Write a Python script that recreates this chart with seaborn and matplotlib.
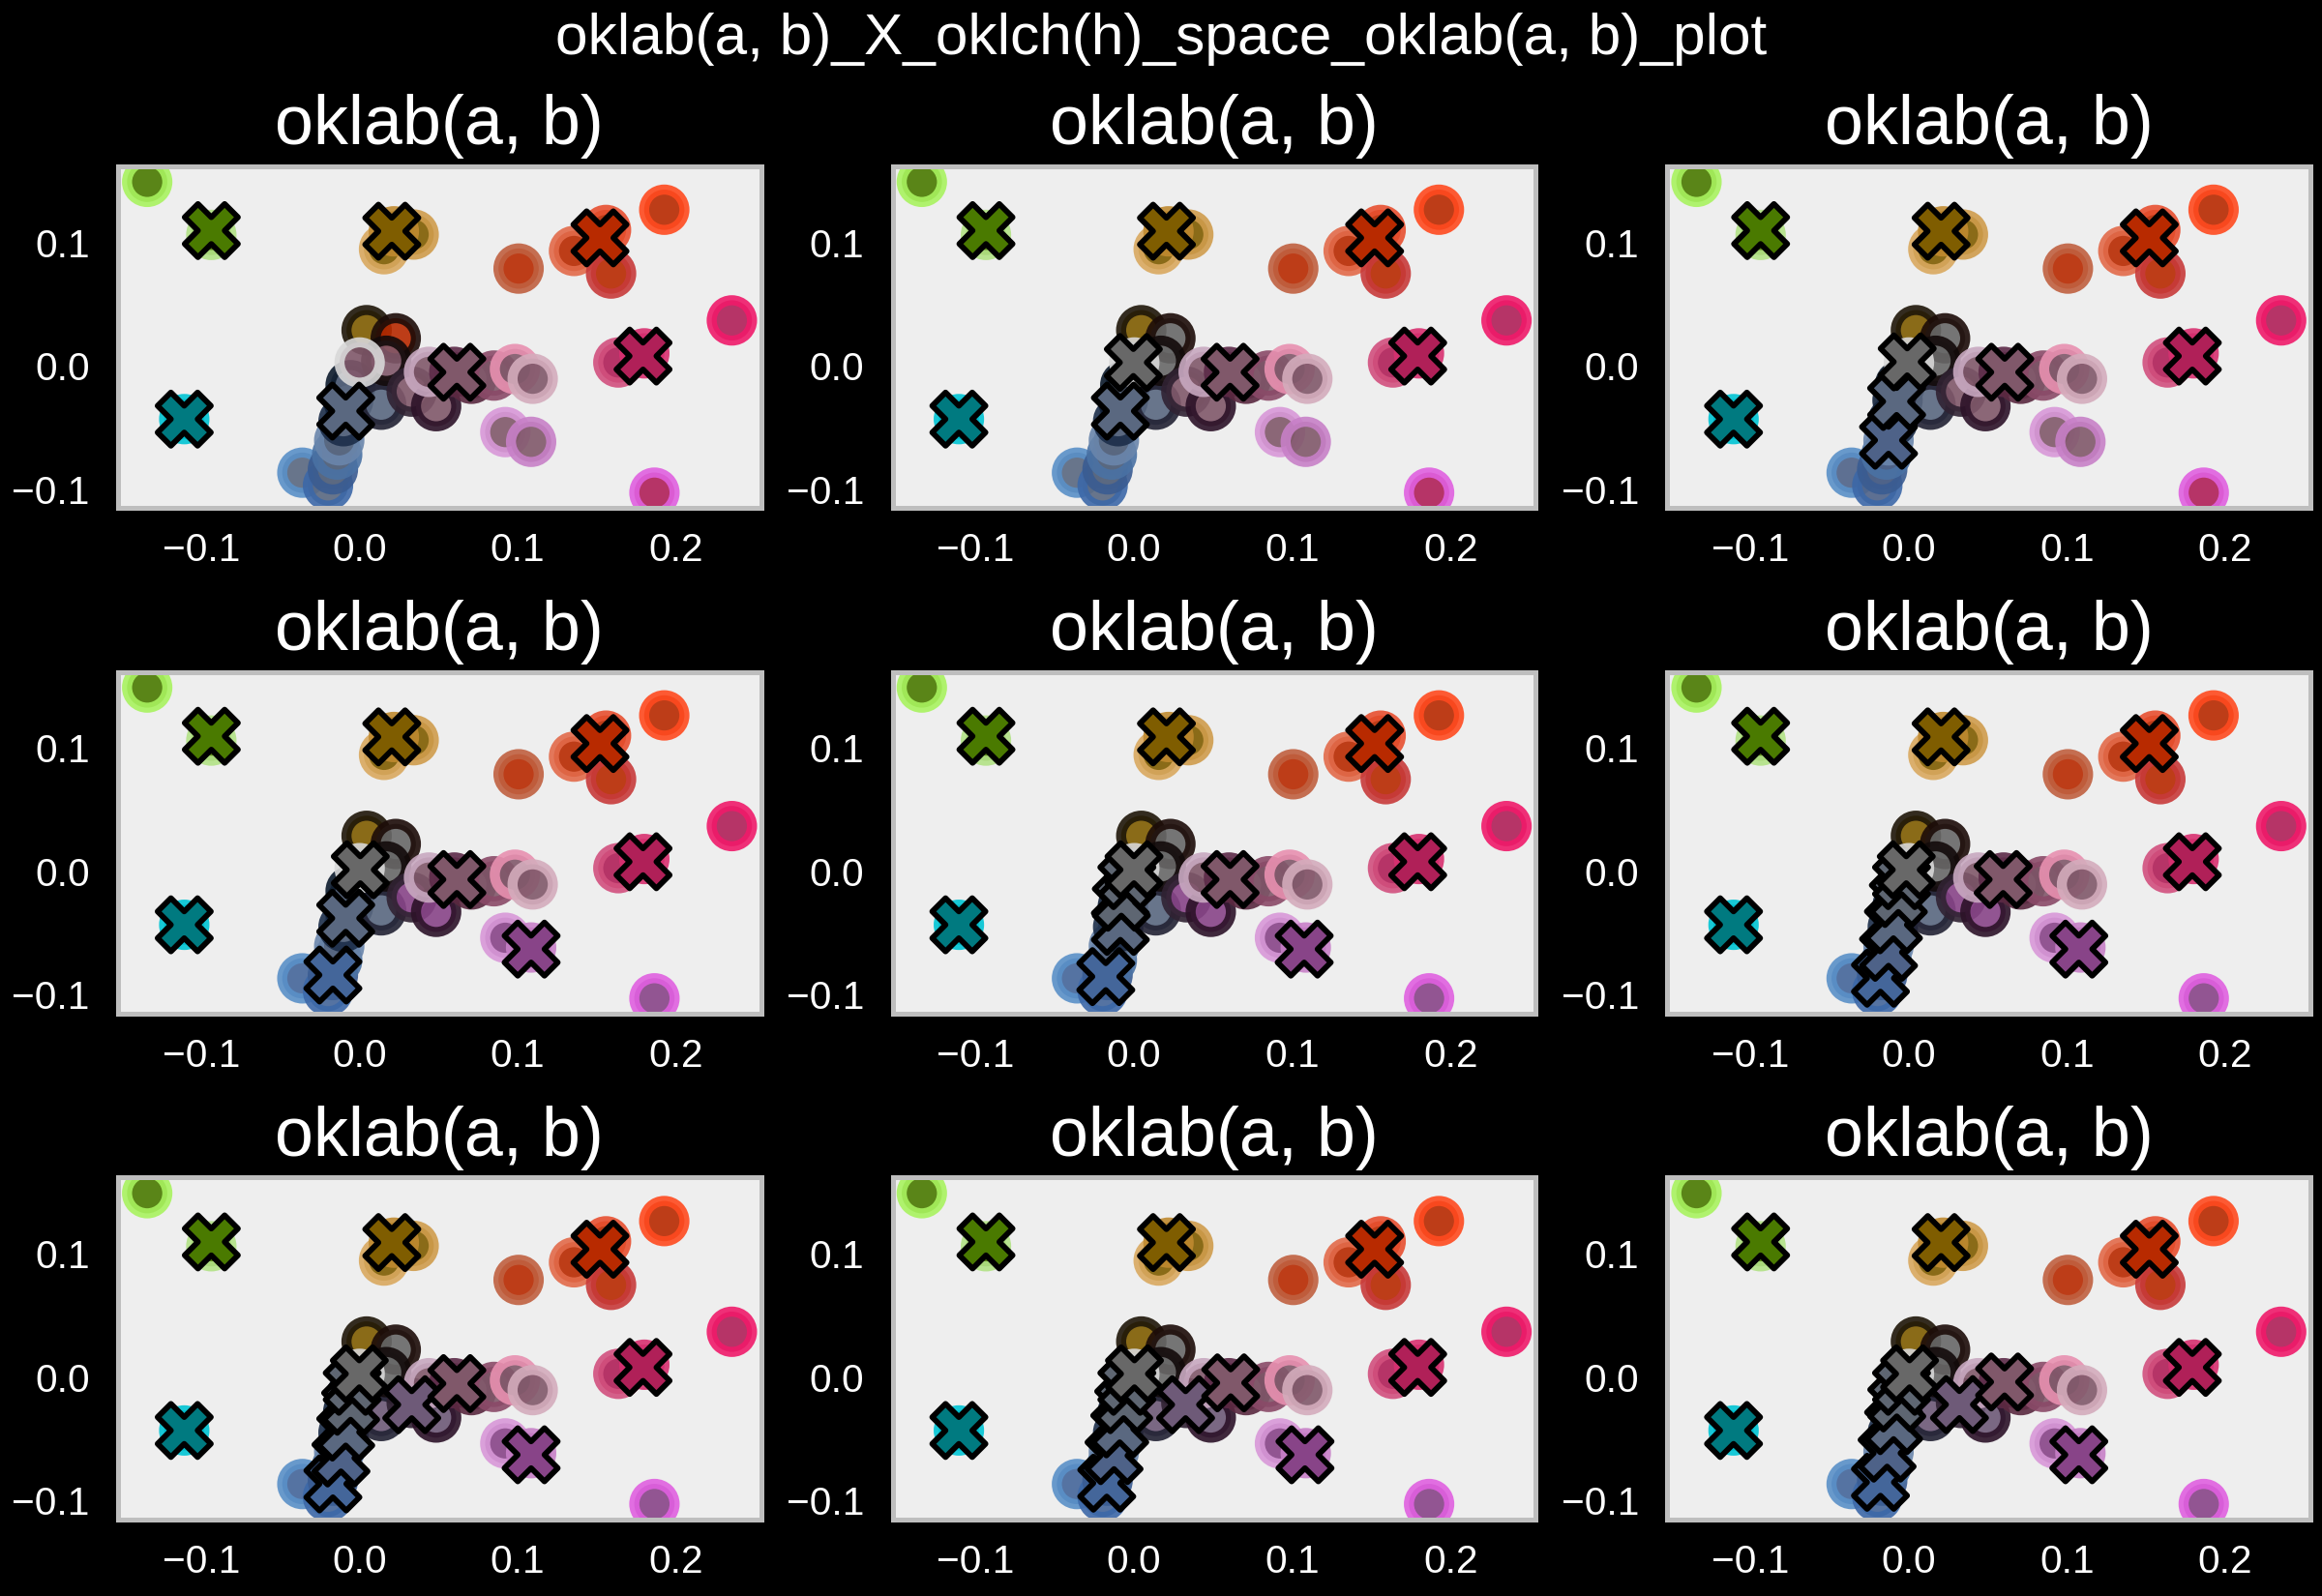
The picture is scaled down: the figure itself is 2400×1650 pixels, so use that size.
import matplotlib
matplotlib.use("Agg")
import matplotlib.pyplot as plt
from matplotlib.ticker import MultipleLocator
import pandas as pd
import seaborn as sns

# palette colours placed at their oklab (a, b); ring = the colour itself
point_a = [-0.1340, -0.0935, 0.0156, 0.0343, 0.0218, 0.1006, 0.1356, 0.1590, 0.1558, 0.1926,
           0.2353, 0.1636, 0.1800, 0.1864, -0.1106,
           -0.0360, -0.0198, -0.0167, -0.0140, -0.0127, -0.0100, -0.0070, -0.0055, 0.0138,
           0.0046, 0.0230, 0.0170, 0.0002,
           0.0331, 0.0485, 0.0440, 0.0600, 0.0708, 0.0850, 0.0983, 0.1095, 0.0922, 0.1085]
point_b = [0.1490, 0.1060, 0.0944, 0.1063, 0.1089, 0.0787, 0.0930, 0.0747, 0.1100, 0.1264,
           0.0367, 0.0026, 0.0100, -0.1029, -0.0433,
           -0.0867, -0.0970, -0.0840, -0.0720, -0.0605, -0.0450, -0.0280, -0.0158, -0.0316,
           0.0288, 0.0222, 0.0040, 0.0026,
           -0.0210, -0.0328, -0.0050, -0.0050, -0.0106, -0.0080, -0.0027, -0.0106, -0.0538, -0.0617]
point_edge = ["#a8f35f", "#b2e286", "#d9a95f", "#cf9c4c", "#c08a30", "#c06040", "#e26a4a",
              "#c83a3a", "#e85030", "#ff4a1f", "#f01a6a", "#d2507e", "#d83070", "#e060e0",
              "#00c4d4",
              "#5a90c8", "#3c68a8", "#3a5c92", "#4a72a4", "#6a86ac", "#1c2e4a", "#12223a",
              "#0c1a2c", "#222234",
              "#1e1608", "#1c0c08", "#120a0a", "#d8d8d8",
              "#302232", "#2c1228", "#c8a8c0", "#5c2a48", "#5a2840", "#8a4a68", "#e890b0",
              "#d4acbc", "#d898d8", "#c880c8"]

# cluster of every point in the first panel, then changes panel by panel
base_group = ["green", "green", "gold", "gold", "gold", "red", "red", "red", "red", "red",
              "magenta", "magenta", "magenta", "magenta", "teal",
              "slate", "slate", "slate", "slate", "slate", "slate", "slate", "slate", "slate",
              "gold", "red", "mauve", "mauve",
              "mauve", "mauve", "mauve", "mauve", "mauve", "mauve", "mauve", "mauve", "mauve", "mauve"]
group_changes = [
    {},
    {25: "gray", 26: "gray", 27: "gray"},
    {15: "slateblue", 16: "slateblue", 17: "slateblue", 18: "slateblue", 19: "slateblue"},
    {15: "blue", 16: "blue", 17: "blue", 18: "blue", 19: "slate",
     28: "purple", 29: "purple", 36: "purple", 37: "purple", 13: "purple"},
    {21: "slategray", 22: "slategray"},
    {18: "slateblue", 19: "slateblue"},
    {23: "mpurple", 28: "mpurple", 29: "mpurple"},
    {},
    {},
]

center_colors = {
    "green": "#4a7a00", "gold": "#7f5d00", "red": "#b82a00", "magenta": "#b02058",
    "teal": "#007a80", "mauve": "#80586a", "slate": "#5a6880", "gray": "#686868",
    "slategray": "#5e6672", "slateblue": "#4e6288", "blue": "#44669a",
    "purple": "#884488", "mpurple": "#6e5a78",
}

# cluster centres (X markers) per panel, drawn in this order
outer_keys = ["green", "gold", "red", "magenta", "teal"]
outer_a = [-0.0935, 0.0205, 0.1520, 0.1792, -0.1106]
outer_b = [0.1095, 0.1090, 0.1036, 0.0078, -0.0433]

center_keys = [
    ["mauve", "slate"],
    ["mauve", "slate", "gray"],
    ["mauve", "slateblue", "slate", "gray"],
    ["purple", "mauve", "blue", "slate", "gray"],
    ["purple", "mauve", "blue", "slate", "slategray", "slategray", "gray"],
    ["purple", "mauve", "blue", "slateblue", "slate", "slategray", "slategray", "gray"],
    ["purple", "mpurple", "mauve", "blue", "slateblue", "slate", "slategray", "slategray", "gray"],
    ["purple", "mpurple", "mauve", "blue", "slateblue", "slate", "slategray", "slategray", "gray"],
    ["purple", "mpurple", "mauve", "blue", "slateblue", "slate", "slategray", "slategray", "gray"],
]
center_a = [
    [0.0616, -0.0086],
    [0.0607, -0.0086, -0.0004],
    [0.0607, -0.0127, -0.0076, -0.0009],
    [0.1085, 0.0616, -0.0167, -0.0086, 0.0006],
    [0.1075, 0.0607, -0.0178, -0.0086, -0.0080, -0.0045, 0.0000],
    [0.1075, 0.0597, -0.0178, -0.0127, -0.0096, -0.0065, -0.0045, -0.0015],
    [0.1085, 0.0331, 0.0616, -0.0167, -0.0116, -0.0086, -0.0055, -0.0045, 0.0000],
    [0.1080, 0.0326, 0.0611, -0.0172, -0.0126, -0.0090, -0.0065, -0.0045, 0.0003],
    [0.1075, 0.0321, 0.0606, -0.0178, -0.0136, -0.0095, -0.0075, -0.0045, 0.0006],
]
center_b = [
    [-0.0053, -0.0368],
    [-0.0053, -0.0368, 0.0026],
    [-0.0053, -0.0604, -0.0290, 0.0031],
    [-0.0630, -0.0066, -0.0840, -0.0380, 0.0013],
    [-0.0630, -0.0066, -0.0853, -0.0446, -0.0250, -0.0075, 0.0013],
    [-0.0630, -0.0066, -0.0866, -0.0656, -0.0433, -0.0220, -0.0075, 0.0013],
    [-0.0630, -0.0224, -0.0053, -0.0866, -0.0656, -0.0446, -0.0237, -0.0075, 0.0026],
    [-0.0630, -0.0224, -0.0047, -0.0860, -0.0637, -0.0420, -0.0224, -0.0075, 0.0026],
    [-0.0630, -0.0223, -0.0040, -0.0853, -0.0617, -0.0394, -0.0210, -0.0075, 0.0026],
]

sns.set_style("white", {
    "axes.facecolor": "#eeeeee",
    "axes.edgecolor": "#bebebe",
    "figure.facecolor": "black",
    "text.color": "white",
    "xtick.color": "white",
    "ytick.color": "white",
    "axes.grid": False,
})
plt.rcParams["font.family"] = ["Liberation Sans", "DejaVu Sans"]

fig, axes = plt.subplots(3, 3, figsize=(16, 11), dpi=150)
fig.subplots_adjust(left=0.0508, right=0.995, bottom=0.0479, top=0.8958,
                    wspace=0.2045, hspace=0.479)

groups = list(base_group)
for i, ax in enumerate(axes.flat):
    for idx, g in group_changes[i].items():
        groups[idx] = g
    faces = [center_colors[g] for g in groups]
    pts = pd.DataFrame({"a": point_a, "b": point_b, "face": faces})
    sns.scatterplot(data=pts, x="a", y="b", hue="face",
                    palette={c: c for c in set(faces)}, s=400,
                    edgecolor=point_edge, linewidth=5.0, alpha=0.9,
                    legend=False, ax=ax)

    keys = outer_keys + center_keys[i]
    cen = pd.DataFrame({"a": outer_a + center_a[i], "b": outer_b + center_b[i], "key": keys})
    sns.scatterplot(data=cen, x="a", y="b", hue="key",
                    palette={k: center_colors[k] for k in set(keys)},
                    marker="X", s=700, edgecolor="black", linewidth=2.8,
                    legend=False, ax=ax)

    ax.set_title("oklab(a, b)", fontsize=34.5, pad=11, color="white")
    ax.set_xlabel("")
    ax.set_ylabel("")
    ax.xaxis.set_major_locator(MultipleLocator(0.1))
    ax.yaxis.set_major_locator(MultipleLocator(0.1))
    ax.tick_params(axis="both", length=0, labelsize=19.5)
    ax.tick_params(axis="x", pad=12)
    ax.tick_params(axis="y", pad=14)
    for sp in ax.spines.values():
        sp.set_linewidth(2.4)
        sp.set_color("#bebebe")

fig.suptitle("oklab(a, b)_X_oklch(h)_space_oklab(a, b)_plot", fontsize=29,
             color="white", y=0.966, va="baseline")

fig.savefig("out.png", dpi=150, facecolor="black")
